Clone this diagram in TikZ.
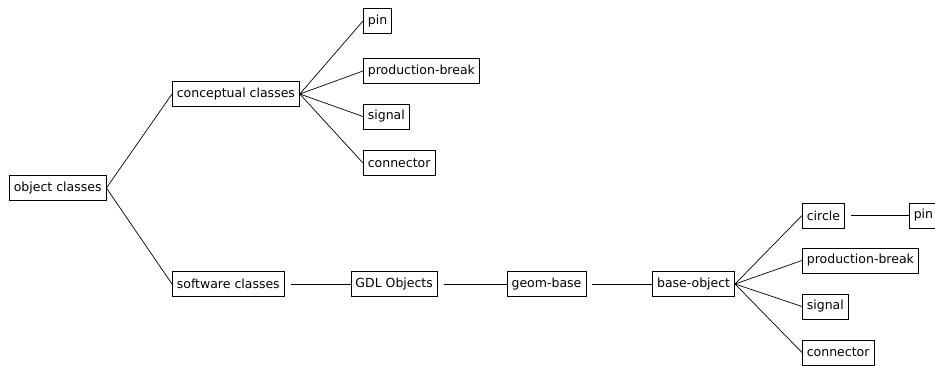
\documentclass[tikz,border=0pt]{standalone}
\usepackage{fontspec}
\setmainfont{DejaVu Sans}
\usetikzlibrary{positioning}

\begin{document}
\begin{tikzpicture}[x=1pt,y=-1pt,node distance=66pt,line width=0.7pt,
  class node/.style={draw,rectangle,inner xsep=4.5pt,minimum height=25pt,font=\fontsize{12.5}{15}\selectfont}]
  \useasboundingbox (0,0) rectangle (935,365);
  \clip (0,0) rectangle (935,365);
  \node[class node, anchor=west] (obj) at (9,188) {object classes};
  \node[class node, anchor=west] (cc) at (172,94) {conceptual classes};
  \node[class node, anchor=west] (sc) at (172,284) {software classes};
  % conceptual leaves
  \node[class node, anchor=west] (cpin) at (363,21) {pin};
  \node[class node, anchor=west] (cbreak) at (363,71) {production-break};
  \node[class node, anchor=west] (csignal) at (363,116.5) {signal};
  \node[class node, anchor=west] (cconn) at (363,163) {connector};
  % software chain
  \node[class node] (gdl) [right=of sc] {GDL Objects};
  \node[class node] (geom) [right=69pt of gdl] {geom-base};
  \node[class node] (base) [right=of geom] {base-object};
  \node[class node, anchor=west] (scircle) at (802,215.5) {circle};
  \node[class node, anchor=west] (sbreak) at (802,260.5) {production-break};
  \node[class node, anchor=west] (ssignal) at (802,306.5) {signal};
  \node[class node, anchor=west] (sconn) at (802,352.5) {connector};
  \node[class node] (spin) [right=64pt of scircle] {pin};
  \path
    (obj.east) edge (cc.west)
               edge (sc.west)
    (cc.east) edge (cpin.west)
              edge (cbreak.west)
              edge (csignal.west)
              edge (cconn.west)
    (base.east) edge (scircle.west)
                edge (sbreak.west)
                edge (ssignal.west)
                edge (sconn.west);
  \path[shorten <=6pt]
    (sc) edge (gdl)
    (gdl) edge (geom)
    (geom) edge (base)
    (scircle) edge (spin);
\end{tikzpicture}
\end{document}
